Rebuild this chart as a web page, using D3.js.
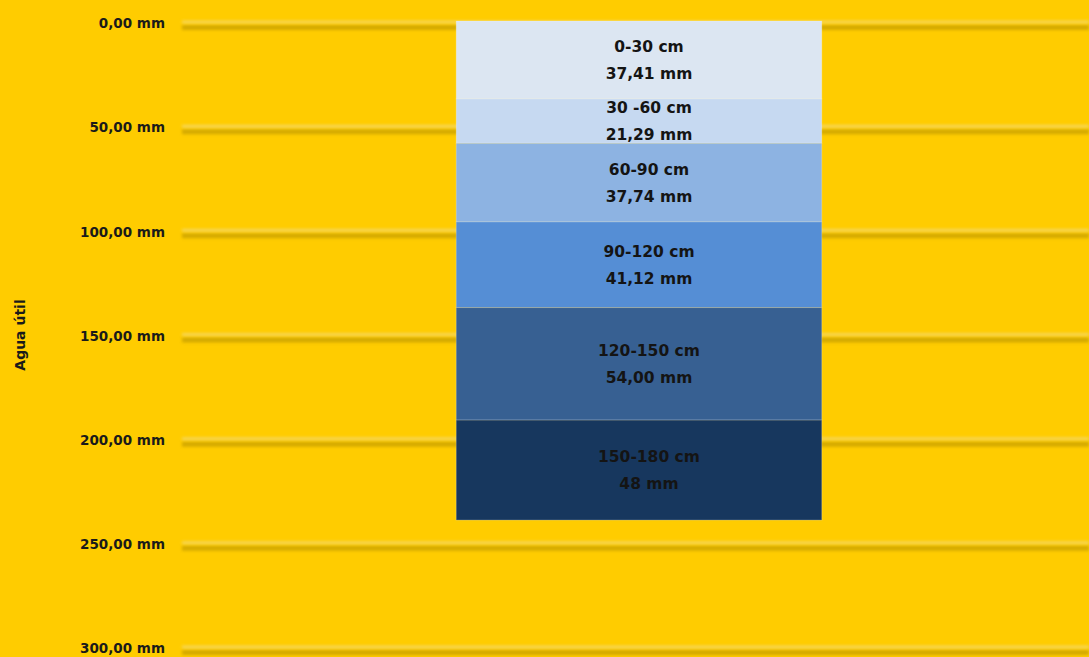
<!DOCTYPE html>
<html>
<head>
<meta charset="utf-8">
<script src="https://cdn.jsdelivr.net/npm/d3@7"></script>
<style>
  html, body { margin: 0; padding: 0; background: #FFCC00; }
  svg { display: block; }
  text { font-family: "DejaVu Sans", sans-serif; }
</style>
</head>
<body>
<svg id="chart" width="1089" height="657"></svg>
<script>
// Soil layers and their available water (mm)
const layers = ["0-30 cm", "30 -60 cm", "60-90 cm", "90-120 cm", "120-150 cm", "150-180 cm"];
const waterMm = [37.41, 21.29, 37.74, 41.12, 54.00, 48];
const waterLabels = ["37,41 mm", "21,29 mm", "37,74 mm", "41,12 mm", "54,00 mm", "48 mm"];
const layerColors = ["#DCE6F2", "#C6D9F1", "#8DB3E2", "#558ED5", "#376092", "#17375E"];
const yTicks = [0, 50, 100, 150, 200, 250, 300];
const category = ["Perfil"];
const yTitle = "Agua útil";

const W = 1089, H = 657;
const plotLeft = 182, plotRight = 1089;
const svg = d3.select("#chart");

const ptBR = d3.formatLocale({ decimal: ",", thousands: ".", grouping: [3], currency: ["", ""] });
const fmt = ptBR.format(".2f");

// Depth axis runs downward: 0 at the top
const y = d3.scaleLinear().domain([0, 300]).range([21, 646]);
const x = d3.scaleBand().domain(category).range([186, 1092]).padding(0.425);

// Single-row table for the stack layout
const row = { cat: category[0] };
layers.forEach((l, i) => { row[l] = waterMm[i]; });
const series = d3.stack().keys(layers)([row]);

const defs = svg.append("defs");
defs.append("filter").attr("id", "soft")
  .attr("filterUnits", "userSpaceOnUse")
  .attr("x", 0).attr("y", 0).attr("width", W).attr("height", H)
  .append("feGaussianBlur").attr("stdDeviation", 1.6);

// Embossed gridlines: pale highlight above a soft dark shadow
const grid = svg.append("g");
yTicks.forEach(t => {
  const gy = y(t);
  grid.append("line")
    .attr("x1", plotLeft).attr("x2", plotRight)
    .attr("y1", gy + 6.5).attr("y2", gy + 6.5)
    .attr("stroke", "#B89300").attr("stroke-width", 5)
    .attr("opacity", 0.6).attr("filter", "url(#soft)");
  grid.append("line")
    .attr("x1", plotLeft).attr("x2", plotRight)
    .attr("y1", gy + 1).attr("y2", gy + 1)
    .attr("stroke", "#F4D766").attr("stroke-width", 2.5)
    .attr("filter", "url(#soft)");
});

// Y axis labels
const yAxis = d3.axisLeft(y).tickValues(yTicks).tickSize(0).tickPadding(0)
  .tickFormat(d => fmt(d) + " mm");
const ya = svg.append("g").attr("transform", "translate(165,2)").call(yAxis);
ya.select(".domain").remove();
ya.selectAll("text")
  .attr("dy", "0.35em")
  .attr("fill", "#1a1a1a")
  .style("font-size", "13.5px")
  .style("font-weight", "700")
  .style("font-family", "'DejaVu Sans', sans-serif");

// Axis title
svg.append("text")
  .attr("transform", `translate(20,335) rotate(-90)`)
  .attr("text-anchor", "middle")
  .attr("dy", "0.35em")
  .attr("fill", "#1a1a1a")
  .style("font-size", "14px")
  .style("font-weight", "700")
  .text(yTitle);

// Stacked bar segments
const bars = svg.append("g");
series.forEach((s, i) => {
  const d = s[0];
  bars.append("rect")
    .attr("x", x(category[0]))
    .attr("width", x.bandwidth())
    .attr("y", y(d[0]))
    .attr("height", y(d[1]) - y(d[0]))
    .attr("fill", layerColors[i])
    .attr("stroke", "rgba(255,255,255,0.22)")
    .attr("stroke-width", 1);
});

// Segment labels
const labels = svg.append("g");
series.forEach((s, i) => {
  const d = s[0];
  const cx = x(category[0]) + x.bandwidth() / 2 + 10;
  const cy = (y(d[0]) + y(d[1])) / 2;
  const t = labels.append("text")
    .attr("text-anchor", "middle")
    .attr("fill", "#141414")
    .style("font-size", "15.5px")
    .style("font-weight", "700");
  t.append("tspan").attr("x", cx).attr("y", cy - 13.5).attr("dy", "0.35em").text(layers[i]);
  t.append("tspan").attr("x", cx).attr("y", cy + 13.5).attr("dy", "0.35em").text(waterLabels[i]);
});
</script>
</body>
</html>
